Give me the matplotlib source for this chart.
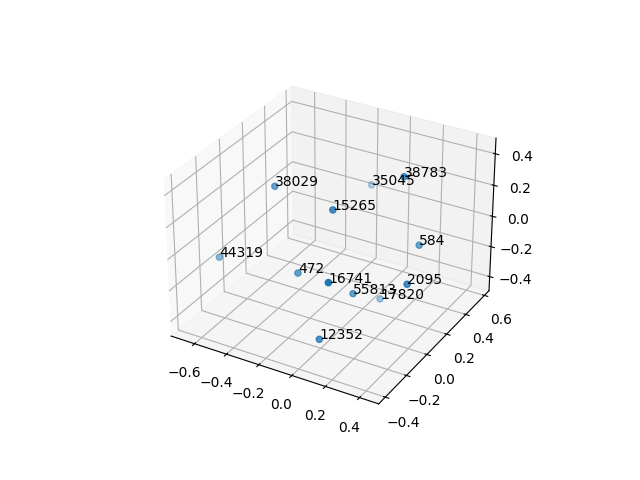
import matplotlib
matplotlib.use("Agg")
import matplotlib.pyplot as plt

# points, depth taken from how pale each dot is
labels = ["38029", "35045", "38783", "15265", "584", "44319", "472", "16741", "2095", "55813", "17820", "12352"]
xs = [-0.401, -0.191, 0.243, -0.008, 0.323, -0.669, -0.176, 0.172, 0.431, 0.098, 0.078, 0.08]
ys = [-0.012, 0.58, 0.189, -0.076, 0.219, -0.138, -0.142, -0.39, -0.077, -0.051, 0.244, -0.333]
zs = [0.305, 0.042, 0.435, 0.308, 0.012, -0.155, -0.101, 0.104, -0.02, -0.203, -0.432, -0.32]

fig = plt.figure()
ax = fig.add_subplot(projection="3d")
ax.scatter(xs, ys, zs)
for x, y, z, label in zip(xs, ys, zs, labels):
    ax.text(x, y, z, label)

plt.savefig("out.png")
